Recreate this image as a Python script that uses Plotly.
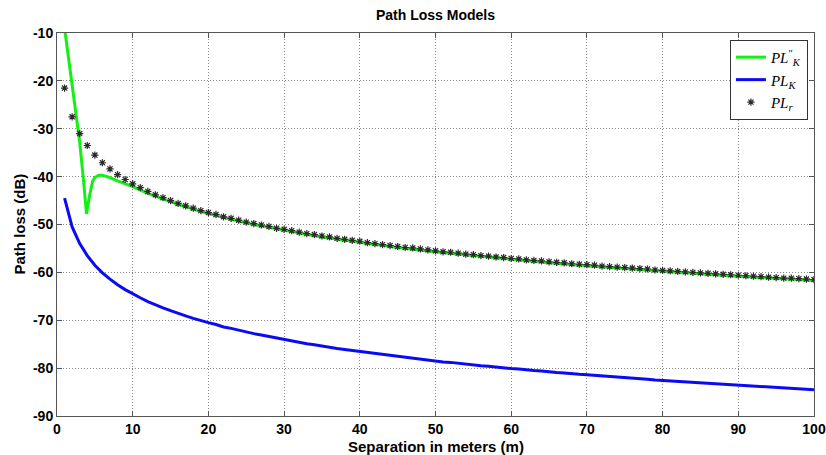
import plotly.graph_objects as go

# ---- data ----
dist_m = list(range(1, 101))

pl_r = [-21.5, -27.5, -31.0, -33.5, -35.5, -37.1, -38.4, -39.6, -40.6, -41.5,
        -42.3, -43.1, -43.8, -44.4, -45.0, -45.6, -46.1, -46.6, -47.1, -47.5,
        -47.9, -48.4, -48.7, -49.1, -49.5, -49.8, -50.1, -50.4, -50.8, -51.0,
        -51.3, -51.6, -51.9, -52.1, -52.4, -52.6, -52.9, -53.1, -53.3, -53.5,
        -53.8, -54.0, -54.2, -54.4, -54.6, -54.8, -54.9, -55.1, -55.3, -55.5,
        -55.7, -55.8, -56.0, -56.2, -56.3, -56.5, -56.6, -56.8, -56.9, -57.1,
        -57.2, -57.4, -57.5, -57.6, -57.8, -57.9, -58.0, -58.2, -58.3, -58.4,
        -58.5, -58.7, -58.8, -58.9, -59.0, -59.1, -59.2, -59.3, -59.5, -59.6,
        -59.7, -59.8, -59.9, -60.0, -60.1, -60.2, -60.3, -60.4, -60.5, -60.6,
        -60.7, -60.8, -60.9, -61.0, -61.1, -61.2, -61.2, -61.3, -61.4, -61.5]

pl_k = [-44.5, -50.5, -54.0, -56.5, -58.5, -60.1, -61.4, -62.6, -63.6, -64.5,
        -65.3, -66.1, -66.8, -67.4, -68.0, -68.6, -69.1, -69.6, -70.1, -70.5,
        -70.9, -71.4, -71.7, -72.1, -72.5, -72.8, -73.1, -73.4, -73.8, -74.0,
        -74.3, -74.6, -74.9, -75.1, -75.4, -75.6, -75.9, -76.1, -76.3, -76.5,
        -76.8, -77.0, -77.2, -77.4, -77.6, -77.8, -77.9, -78.1, -78.3, -78.5,
        -78.7, -78.8, -79.0, -79.2, -79.3, -79.5, -79.6, -79.8, -79.9, -80.1,
        -80.2, -80.4, -80.5, -80.6, -80.8, -80.9, -81.0, -81.2, -81.3, -81.4,
        -81.5, -81.7, -81.8, -81.9, -82.0, -82.1, -82.2, -82.3, -82.5, -82.6,
        -82.7, -82.8, -82.9, -83.0, -83.1, -83.2, -83.3, -83.4, -83.5, -83.6,
        -83.7, -83.8, -83.9, -84.0, -84.1, -84.2, -84.2, -84.3, -84.4, -84.5]

dist_k2 = [1, 1.5, 2, 2.5, 3, 3.5, 3.9, 4.3, 4.7, 5.0, 5.5, 6, 7, 8, 9, 10,
           12, 14, 16, 18, 20, 25, 30, 35, 40, 45, 50, 55, 60, 65, 70, 75,
           80, 85, 90, 95, 100]
pl_k2 = [-9.0, -15.0, -20.6, -26.3, -32.8, -40.8, -47.8, -44.0, -41.0, -40.2,
         -39.7, -39.7, -40.2, -40.9, -41.5, -42.1, -43.5, -44.7, -45.8, -46.8,
         -47.7, -49.7, -51.2, -52.6, -53.7, -54.8, -55.7, -56.5, -57.3, -58.0,
         -58.6, -59.2, -59.8, -60.3, -60.8, -61.3, -61.7]

x_ticks = [0, 10, 20, 30, 40, 50, 60, 70, 80, 90, 100]
y_ticks = [-90, -80, -70, -60, -50, -40, -30, -20, -10]

FONT = "Liberation Sans, Arial, sans-serif"

# ---- figure ----
fig = go.Figure()
fig.add_trace(go.Scatter(x=dist_k2, y=pl_k2, mode="lines",
                         line=dict(color="#14f014", width=3),
                         name="<i>PL</i><sup>\u2033</sup><sub><i>K</i></sub>"))
fig.add_trace(go.Scatter(x=dist_m, y=pl_k, mode="lines",
                         line=dict(color="#0a0af5", width=3),
                         name="<i>PL</i><sub><i>K</i></sub>"))
fig.add_trace(go.Scatter(x=dist_m, y=pl_r, mode="markers",
                         marker=dict(symbol="asterisk-open", size=6, color="#2a2a2a",
                                     line=dict(color="#2a2a2a", width=1.2)),
                         name="<i>PL</i><sub><i>r</i></sub>"))

axis_common = dict(
    showline=True, linecolor="#555555", linewidth=1, mirror="ticks",
    ticks="inside", ticklen=5, tickcolor="#555555",
    showgrid=True, gridcolor="#8a8a8a", griddash="1px,2px", gridwidth=1,
    zeroline=False, automargin=False,
    tickfont=dict(family=FONT, size=14, color="black"),
)

fig.update_layout(
    width=826, height=455,
    margin=dict(l=57, r=12, t=33, b=39),
    paper_bgcolor="white", plot_bgcolor="white",
    title=dict(text="<b>Path Loss Models</b>", x=(57 + 814) / 2 / 826, xanchor="center",
               y=1 - 15 / 455, yanchor="middle",
               font=dict(family=FONT, size=14, color="black")),
    xaxis=dict(range=[0, 100], tickvals=x_ticks,
               ticktext=["<b>%d</b>" % v for v in x_ticks],
               **axis_common),
    yaxis=dict(range=[-90, -10], tickvals=y_ticks,
               ticktext=["<b>%d</b>" % v for v in y_ticks],
               **axis_common),
    legend=dict(x=0.992, xanchor="right", y=0.982, yanchor="top",
                bgcolor="white", bordercolor="#333333", borderwidth=1,
                font=dict(family="Liberation Serif, Times New Roman", size=15, color="black"),
                itemwidth=30, tracegroupgap=0),
    showlegend=True,
    annotations=[
        dict(text="<b>Separation in meters (m)</b>", xref="paper", yref="paper",
             x=0.5, y=-(446 - 416) / 383, xanchor="center", yanchor="middle",
             showarrow=False, font=dict(family=FONT, size=15, color="black")),
        dict(text="<b>Path loss (dB)</b>", xref="paper", yref="paper",
             x=-(57 - 19) / 757, y=0.5, xanchor="center", yanchor="middle",
             textangle=-90, showarrow=False,
             font=dict(family=FONT, size=15, color="black")),
    ],
)

fig.write_html("out.html")
